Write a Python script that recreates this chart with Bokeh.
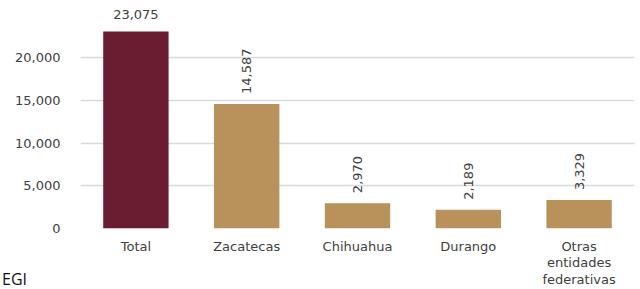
from bokeh.plotting import figure
from bokeh.models import ColumnDataSource, Range1d, Div, NumeralTickFormatter, FixedTicker
from bokeh.layouts import column
from bokeh.embed import file_html
from bokeh.resources import INLINE
from bokeh.core.properties import value
import math

categories = ["Total", "Zacatecas", "Chihuahua", "Durango", "Otras\nentidades\nfederativas"]
values = [23075, 14587, 2970, 2189, 3329]
colors = ["#6a1c31", "#b8915b", "#b8915b", "#b8915b", "#b8915b"]
labels = ["23,075", "14,587", "2,970", "2,189", "3,329"]
y_ticks = [0, 5000, 10000, 15000, 20000]
source_text = "EGI"

FONT = "DejaVu Sans"
TXT = "#404040"

p = figure(x_range=categories, y_range=Range1d(0, 26000), width=640, height=289,
           output_backend="svg", toolbar_location=None,
           min_border_left=80, min_border_right=6, min_border_top=6, min_border_bottom=61)
p.outline_line_color = None
p.background_fill_color = "white"
p.border_fill_color = "white"

src = ColumnDataSource(dict(cat=categories, val=values, col=colors, lab=labels))
p.vbar(x="cat", top="val", width=0.59, fill_color="col", line_color=None, source=src)

# horizontal label for Total
tsrc = ColumnDataSource(dict(cat=categories[:1], val=values[:1], lab=labels[:1]))
p.text(x="cat", y="val", text="lab", source=tsrc, text_align="center", text_baseline="bottom",
       y_offset=-12, text_font=value(FONT), text_font_size="13px", text_color=TXT)
# rotated labels for others
rsrc = ColumnDataSource(dict(cat=categories[1:], val=values[1:], lab=labels[1:]))
p.text(x="cat", y="val", text="lab", source=rsrc, angle=math.pi / 2, text_align="left",
       text_baseline="middle", y_offset=-10, text_font=value(FONT), text_font_size="13px",
       text_color=TXT)

p.xgrid.grid_line_color = None
p.ygrid.grid_line_color = "#d9d9d9"
p.ygrid.grid_line_width = 1.5
p.yaxis.ticker = FixedTicker(ticks=y_ticks)
p.yaxis.formatter = NumeralTickFormatter(format="0,0")
for ax in (p.xaxis[0], p.yaxis[0]):
    ax.axis_line_color = None
    ax.major_tick_line_color = None
    ax.minor_tick_line_color = None
    ax.major_label_text_font = FONT
    ax.major_label_text_font_size = "13px"
    ax.major_label_text_color = TXT
p.xaxis.major_label_text_line_height = 1.1
p.yaxis.major_label_standoff = 14
p.xaxis.major_label_standoff = 4

div = Div(text=source_text, width=60, height=20,
          styles={"margin-top": "-20px", "margin-left": "2px",
                  "font-family": "Open Sans", "font-size": "16px", "color": "#111111",
                  "line-height": "20px"})

layout = column(p, div, spacing=0)
open("out.html", "w").write(file_html(layout, INLINE))
